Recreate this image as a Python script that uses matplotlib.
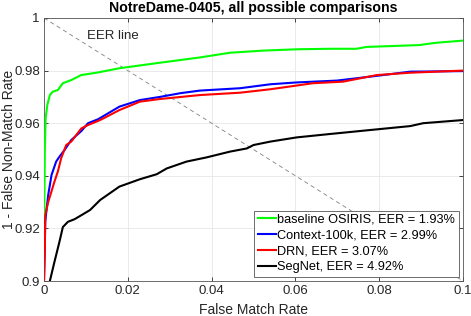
import matplotlib
matplotlib.use("Agg")
import matplotlib.pyplot as plt

plt.rcParams["font.family"] = ["Liberation Sans", "DejaVu Sans"]

# ============================================================
# DATA
# ============================================================

osiris_fmr = [0, 0.0001, 0.0002, 0.0004, 0.0008, 0.0014, 0.0021, 0.0033,
              0.0045, 0.0065, 0.0089, 0.0129, 0.018, 0.0277, 0.0372,
              0.0444, 0.0523, 0.0603, 0.0683, 0.0746, 0.077, 0.0895,
              0.0937, 0.1]
osiris_tnmr = [0.90, 0.93, 0.95, 0.962, 0.967, 0.9707, 0.972, 0.9726,
               0.9752, 0.9764, 0.9783, 0.9793, 0.9809, 0.983, 0.985,
               0.9868, 0.9876, 0.9881, 0.9883, 0.9883, 0.989, 0.9897,
               0.9906, 0.9914]

context_fmr = [0, 0.0003, 0.001, 0.0018, 0.0029, 0.0037, 0.0049, 0.0065,
               0.0089, 0.0105, 0.0129, 0.018, 0.0229, 0.0277, 0.0325,
               0.0372, 0.0468, 0.054, 0.0603, 0.0699, 0.0794, 0.0874, 0.1]
context_tnmr = [0.90, 0.9226, 0.9327, 0.9403, 0.9454, 0.9473, 0.9498,
                0.9536, 0.957, 0.96, 0.9615, 0.9663, 0.9688, 0.970,
                0.9714, 0.9724, 0.9733, 0.9748, 0.9755, 0.9762, 0.978,
                0.9796, 0.9798]

drn_fmr = [0, 0.0002, 0.0003, 0.001, 0.0025, 0.0033, 0.0041, 0.0053,
           0.0065, 0.0077, 0.0089, 0.0105, 0.0134, 0.018, 0.0229, 0.0277,
           0.0372, 0.0468, 0.054, 0.0642, 0.0714, 0.0794, 0.0874, 0.1]
drn_tnmr = [0.90, 0.912, 0.925, 0.930, 0.9378, 0.9416, 0.9467, 0.9517,
            0.953, 0.9555, 0.958, 0.9593, 0.9612, 0.965, 0.9682, 0.9692,
            0.9707, 0.9716, 0.9729, 0.9752, 0.9758, 0.9783, 0.9792, 0.980]

segnet_fmr = [0.0014, 0.0025, 0.0037, 0.0045, 0.0057, 0.0073, 0.0089,
              0.011, 0.0134, 0.018, 0.0229, 0.0269, 0.0293, 0.034, 0.0388,
              0.0444, 0.0484, 0.05, 0.054, 0.0603, 0.0683, 0.0778, 0.0874,
              0.0905, 0.1]
segnet_tnmr = [0.900, 0.9073, 0.915, 0.9205, 0.9225, 0.9235, 0.925, 0.927,
               0.9308, 0.9359, 0.9387, 0.9406, 0.9428, 0.9454, 0.947,
               0.9492, 0.9504, 0.9517, 0.953, 0.9546, 0.9559, 0.9574,
               0.9589, 0.96, 0.9612]

labels = [
    "baseline OSIRIS, EER = 1.93%",
    "Context-100k, EER = 2.99%",
    "DRN, EER = 3.07%",
    "SegNet, EER = 4.92%",
]

x_ticks = [0, 0.02, 0.04, 0.06, 0.08, 0.1]
x_tick_labels = ["0", "0.02", "0.04", "0.06", "0.08", "0.1"]
y_ticks = [0.9, 0.92, 0.94, 0.96, 0.98, 1.0]
y_tick_labels = ["0.9", "0.92", "0.94", "0.96", "0.98", "1"]

# ============================================================
# FIGURE
# ============================================================

fig = plt.figure(figsize=(4.71, 3.16), dpi=100)
ax = fig.add_axes([44 / 471, 35 / 316, 419 / 471, 263 / 316])

ax.plot([0, 0.1], [1, 0.9], linestyle=(0, (5, 4)), color="#808080",
        linewidth=0.6, zorder=1)

ax.plot(osiris_fmr, osiris_tnmr, color=(0, 1, 0), linewidth=1.5,
        label=labels[0], zorder=3)
ax.plot(context_fmr, context_tnmr, color=(0, 0, 1), linewidth=1.5,
        label=labels[1], zorder=3)
ax.plot(drn_fmr, drn_tnmr, color=(1, 0, 0), linewidth=1.5,
        label=labels[2], zorder=3)
ax.plot(segnet_fmr, segnet_tnmr, color="black", linewidth=1.5,
        label=labels[3], zorder=3)

ax.text(0.0103, 0.9932, "EER line", fontsize=9.5, va="center", ha="left",
        color="#262626")

ax.set_xlim(0, 0.1)
ax.set_ylim(0.9, 1.0)
ax.set_xticks(x_ticks)
ax.set_xticklabels(x_tick_labels)
ax.set_yticks(y_ticks)
ax.set_yticklabels(y_tick_labels)

ax.tick_params(direction="in", length=3, width=0.6, colors="#262626",
               labelsize=9.5, top=True, right=True, pad=3)
for spine in ax.spines.values():
    spine.set_color("#555555")
    spine.set_linewidth(0.6)

ax.grid(True, color="#e6e6e6", linewidth=0.6)
ax.set_axisbelow(True)

ax.set_xlabel("False Match Rate", fontsize=10, color="#262626")
ax.xaxis.set_label_coords(0.5, -0.083)
ax.set_ylabel("1 - False Non-Match Rate", fontsize=10, color="#262626")
ax.yaxis.set_label_coords(-0.068, 0.5)
ax.set_title("NotreDame-0405, all possible comparisons", fontsize=10.2,
             fontweight="bold", pad=4)

legend = ax.legend(loc="lower right", fontsize=9.2, frameon=True,
                   fancybox=False, edgecolor="#555555", framealpha=1,
                   handlelength=1.4, handletextpad=0.15, borderpad=0.25,
                   labelspacing=0.3, borderaxespad=0.35)
legend.get_frame().set_linewidth(0.6)
legend.set_zorder(5)

fig.savefig("out.png", dpi=100)
